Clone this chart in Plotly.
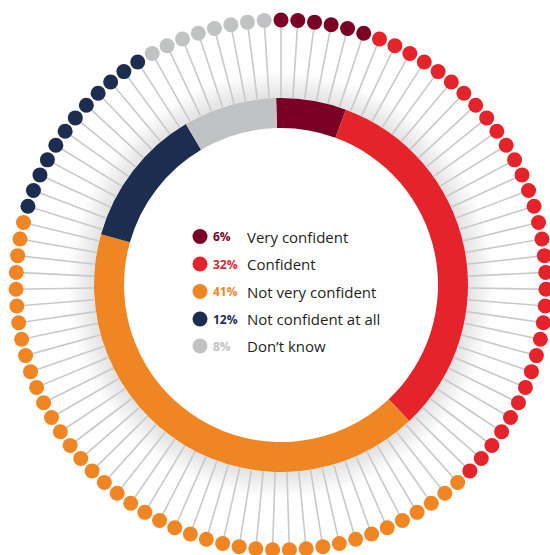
import plotly.graph_objects as go

# Survey answers, in the order they run clockwise from 12 o'clock
categories = ["Very confident", "Confident", "Not very confident",
              "Not confident at all", "Don\u2019t know"]
shares = [6, 32, 41, 12, 8]
share_labels = ["6%", "32%", "41%", "12%", "8%"]
colors = ["#7a0025", "#e4232b", "#f08523", "#1d2d4f", "#c1c2c4"]

W, H = 550, 555
CX, CY = 281, 285          # ring centre in page pixels
R_POLAR = 269              # radial axis span (pixels)
R_DOT = 265
R_OUT, R_IN = 187, 157
DONUT_OFFSET = -1.5        # degrees

fig = go.Figure()

# soft shadow just outside the ring
N_SHADOW = 14
for k in range(1, N_SHADOW + 1):
    fig.add_trace(go.Barpolar(
        r=[26 * k / N_SHADOW], base=[R_OUT], theta=[180], width=[360],
        marker=dict(color="rgba(0,0,0,0.009)", line=dict(width=0)),
        hoverinfo="skip", showlegend=False))

# one dot per percentage point, each with a spoke to the ring
total = sum(shares)
dot_theta, dot_color = [], []
i = 0
for s, c in zip(shares, colors):
    for _ in range(s):
        dot_theta.append(i * 360 / total)
        dot_color.append(c)
        i += 1

spoke_r, spoke_t = [], []
for t in dot_theta:
    spoke_r += [R_OUT, R_DOT, None]
    spoke_t += [t, t, None]
fig.add_trace(go.Scatterpolar(
    r=spoke_r, theta=spoke_t, mode="lines",
    line=dict(color="#c8c9cb", width=1.6),
    hoverinfo="skip", showlegend=False, cliponaxis=False))

# donut segments
starts = []
acc = 0
for s in shares:
    starts.append(acc)
    acc += s
fig.add_trace(go.Barpolar(
    r=[R_OUT - R_IN] * len(shares), base=[R_IN] * len(shares),
    theta=[(st + s / 2) * 360 / total + DONUT_OFFSET for st, s in zip(starts, shares)],
    width=[s * 360 / total for s in shares],
    marker=dict(color=colors, line=dict(width=0)),
    hovertext=categories, showlegend=False))

fig.add_trace(go.Scatterpolar(
    r=[R_DOT] * len(dot_theta), theta=dot_theta, mode="markers",
    marker=dict(size=15, color=dot_color, line=dict(width=0)),
    hoverinfo="skip", showlegend=False, cliponaxis=False))

# centre legend
row_y = [236.5, 264, 291.5, 319, 346]
fig.add_trace(go.Scatter(
    x=[200] * len(categories), y=row_y, mode="markers",
    marker=dict(size=15, color=colors, line=dict(width=0)),
    hoverinfo="skip", showlegend=False, xaxis="x", yaxis="y"))
for y, lab, pct, c in zip(row_y, categories, share_labels, colors):
    fig.add_annotation(x=211, y=y, xref="x", yref="y", text=f"<b>{pct}</b>",
                       showarrow=False, xanchor="left", yanchor="middle",
                       font=dict(family="Open Sans", size=12, color=c))
    fig.add_annotation(x=245, y=y, xref="x", yref="y", text=lab,
                       showarrow=False, xanchor="left", yanchor="middle",
                       font=dict(family="Open Sans", size=15, color="#231f20"))

x0 = (CX - R_POLAR) / W
y_top = (H - (CY - R_POLAR)) / H
y_bot = (H - (CY + R_POLAR)) / H
fig.update_layout(
    width=W, height=H, margin=dict(l=0, r=0, t=0, b=0),
    paper_bgcolor="white", plot_bgcolor="rgba(0,0,0,0)",
    polar=dict(
        domain=dict(x=[x0, 1], y=[max(y_bot, 0), min(y_top, 1)]),
        barmode="overlay", bgcolor="rgba(0,0,0,0)", bargap=0,
        radialaxis=dict(range=[0, R_POLAR], visible=False, showgrid=False),
        angularaxis=dict(rotation=90, direction="clockwise", visible=False,
                         showgrid=False)),
    xaxis=dict(range=[0, W], visible=False, domain=[0, 1], fixedrange=True),
    yaxis=dict(range=[H, 0], visible=False, domain=[0, 1], fixedrange=True),
)

fig.write_html("out.html")
